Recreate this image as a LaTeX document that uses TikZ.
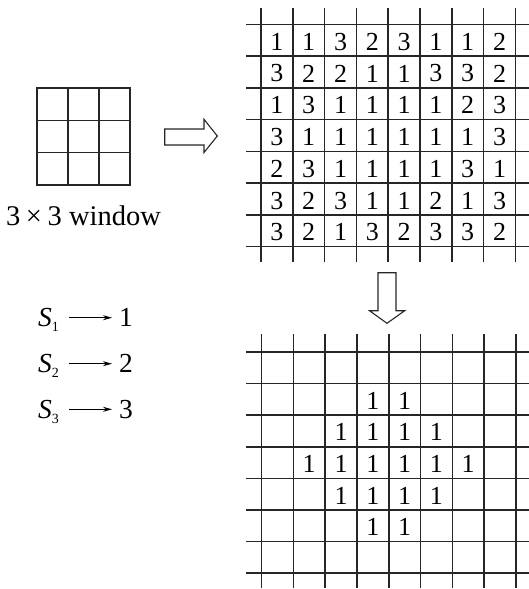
\documentclass[tikz,border=0pt]{standalone}
\usepackage{fontspec}
\setmainfont{Liberation Serif}
\usetikzlibrary{arrows.meta}
\begin{document}
\begin{tikzpicture}[x=1pt,y=-1pt,
  gridline/.style={line width=1.6pt, black!85},
  winline/.style={line width=1.3pt, black!85},
  hollow/.style={line width=1.1pt, black!85, line join=miter},
  num/.style={font=\fontsize{26}{26}\selectfont, inner sep=0pt, anchor=center},
  lbl/.style={font=\fontsize{27.5}{27.5}\selectfont, inner sep=0pt},
  maparrow/.style={line width=1.1pt, -{Stealth[length=9pt,width=5pt]}}]
\useasboundingbox (0,0) rectangle (529,589);
% ---------- 3x3 window ----------
\draw[winline] (37,88) rectangle (130,185);
\foreach \i in {1,2} {
  \draw[winline] ({37+31*\i},88) -- ({37+31*\i},185);
  \draw[winline] (37,{88+32.33*\i}) -- (130,{88+32.33*\i});
}
\node[lbl, anchor=base, font=\fontsize{28.5}{28.5}\selectfont] (win) at (83.5,225.7) {3\kern0.2em×\kern0.2em3 window};
% ---------- hollow right arrow ----------
\draw[hollow] (164.7,129) -- (204,129) -- (204,119.3) -- (217.3,136) -- (204,152.5) -- (204,145) -- (164.7,145) -- cycle;
% ---------- top grid ----------
\foreach \i in {0,...,8} \draw[gridline] ({261+31.8*\i},8) -- ({261+31.8*\i},262);
\foreach \j in {0,...,7} \draw[gridline] (246,{24.3+31.77*\j}) -- (529,{24.3+31.77*\j});
\foreach \row [count=\r from 0] in {{1,1,3,2,3,1,1,2},{3,2,2,1,1,3,3,2},{1,3,1,1,1,1,2,3},{3,1,1,1,1,1,1,3},{2,3,1,1,1,1,3,1},{3,2,3,1,1,2,1,3},{3,2,1,3,2,3,3,2}} {
  \foreach \v [count=\c from 0] in \row {
    \node[num] (t-\r-\c) at ({261+31.8*\c+15.9},{24.3+31.77*\r+17.4}) {\v};
  }
}
% ---------- hollow down arrow ----------
\draw[hollow] (378,272.7) -- (396,272.7) -- (396,310.7) -- (404.7,310.7) -- (387,323.3) -- (369.5,310.7) -- (378,310.7) -- cycle;
% ---------- bottom grid ----------
\foreach \i in {0,...,8} \draw[gridline] ({261.5+31.8*\i},334) -- ({261.5+31.8*\i},588);
\foreach \j in {0,...,7} \draw[gridline] (246,{352+31.6*\j}) -- (529,{352+31.6*\j});
\foreach \r/\c in {1/3,1/4,2/2,2/3,2/4,2/5,3/1,3/2,3/3,3/4,3/5,3/6,4/2,4/3,4/4,4/5,5/3,5/4} {
  \node[num] (b-\r-\c) at ({261.5+31.8*\c+15.9},{352+31.6*\r+17.2}) {1};
}
% ---------- mapping S_i -> i ----------
\foreach \k/\y in {1/326.7,2/372.7,3/418.3} {
  \node[lbl, anchor=base west] (s\k) at (38,\y) {\textit{S}\raisebox{-5pt}{\fontsize{14}{14}\selectfont\k}};
  \node[lbl, anchor=base west] (v\k) at (119,\y) {\k};
  \draw[maparrow] ([xshift=31pt,yshift=9pt]s\k.base west) -- ([xshift=-7pt,yshift=9pt]v\k.base west);
}
\end{tikzpicture}
\end{document}
